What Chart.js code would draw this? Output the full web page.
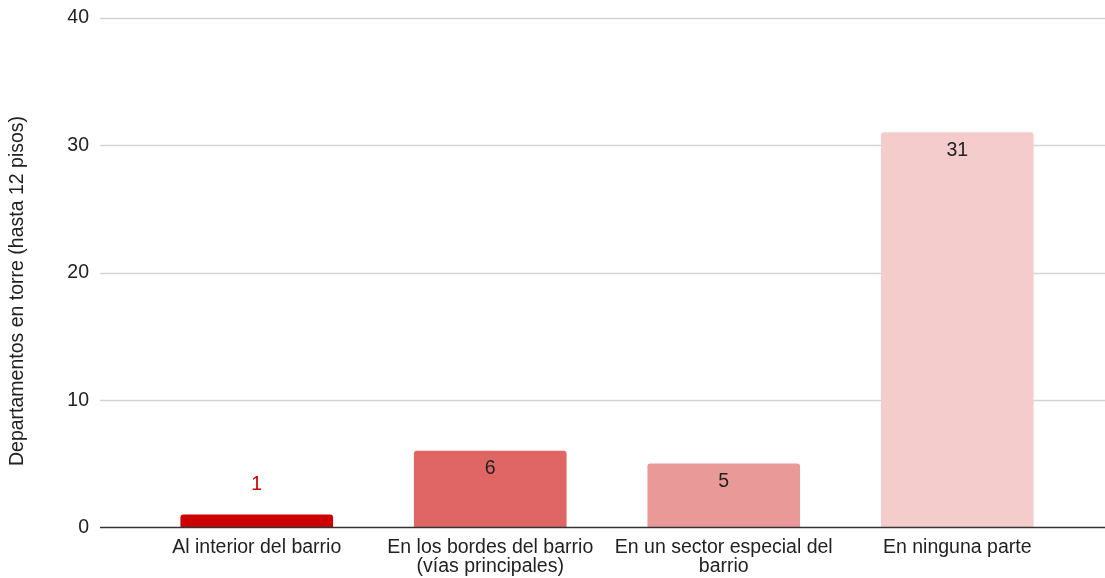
<!DOCTYPE html>
<html lang="es">
<head>
<meta charset="utf-8">
<title>Departamentos en torre</title>
<script src="https://cdn.jsdelivr.net/npm/chart.js@4/dist/chart.umd.min.js"></script>
<style>
  html, body { margin: 0; padding: 0; background: #fff; }
  canvas { display: block; }
</style>
</head>
<body>
<canvas id="chart" width="1105" height="578"></canvas>
<script>
// datos
const categorias = [
  'Al interior del barrio',
  ['En los bordes del barrio', '(vías principales)'],
  ['En un sector especial del', 'barrio'],
  'En ninguna parte'
];
const valores = [1, 6, 5, 31];
const colores = ['#cc0000', '#e06666', '#ea9999', '#f4cccc'];
const ticksY = [0, 10, 20, 30, 40];
const tituloY = 'Departamentos en torre (hasta 12 pisos)';

const FUENTE = '"Liberation Sans", Arial, sans-serif';
const TAM = 19.5;
const GRID_IZQ = 100;

Chart.defaults.font.family = FUENTE;
Chart.defaults.font.size = TAM;
Chart.defaults.color = '#222';

// líneas horizontales de fondo y línea base, a todo el ancho
const lineasFondo = {
  id: 'lineasFondo',
  beforeDatasetsDraw(chart) {
    const { ctx, scales: { y } } = chart;
    ctx.save();
    ctx.lineWidth = 1.6;
    ctx.strokeStyle = '#d4d4d4';
    y.ticks.forEach(t => {
      if (t.value === 0) return;
      const py = Math.round(y.getPixelForValue(t.value)) + 0.5;
      ctx.beginPath();
      ctx.moveTo(GRID_IZQ, py);
      ctx.lineTo(chart.width, py);
      ctx.stroke();
    });
    ctx.restore();
  },
  afterDatasetsDraw(chart) {
    const { ctx, scales: { y } } = chart;
    const py = y.getPixelForValue(0);
    ctx.save();
    ctx.lineWidth = 1.6;
    ctx.strokeStyle = '#333';
    ctx.beginPath();
    ctx.moveTo(GRID_IZQ, py);
    ctx.lineTo(chart.width, py);
    ctx.stroke();

    // título del eje vertical
    ctx.translate(18, 291);
    ctx.rotate(-Math.PI / 2);
    ctx.font = TAM + 'px ' + FUENTE;
    ctx.fillStyle = '#222';
    ctx.textAlign = 'center';
    ctx.textBaseline = 'middle';
    ctx.fillText(tituloY, 0, 0);
    ctx.restore();
  }
};

// etiquetas de valor: dentro de la barra si cabe, encima si no
const etiquetasValor = {
  id: 'etiquetasValor',
  afterDatasetsDraw(chart) {
    const { ctx } = chart;
    const meta = chart.getDatasetMeta(0);
    ctx.save();
    ctx.font = TAM + 'px ' + FUENTE;
    ctx.textAlign = 'center';
    ctx.textBaseline = 'middle';
    meta.data.forEach((bar, i) => {
      const alto = bar.base - bar.y;
      if (alto > 34) {
        ctx.fillStyle = '#222';
        ctx.fillText(String(valores[i]), bar.x, bar.y + 18);
      } else {
        ctx.fillStyle = colores[i];
        ctx.fillText(String(valores[i]), bar.x, bar.y - 30);
      }
    });
    ctx.restore();
  }
};

new Chart(document.getElementById('chart'), {
  type: 'bar',
  data: {
    labels: categorias,
    datasets: [{
      data: valores,
      backgroundColor: colores,
      barThickness: 152,
      borderRadius: 3,
      borderSkipped: 'start'
    }]
  },
  options: {
    responsive: false,
    animation: false,
    layout: { padding: { top: 18, right: 31, bottom: 0, left: 0 } },
    plugins: {
      legend: { display: false },
      tooltip: { enabled: false }
    },
    scales: {
      x: {
        grid: { display: false, drawTicks: false },
        border: { display: false },
        ticks: {
          autoSkip: false,
          maxRotation: 0,
          padding: 11,
          color: '#222',
          font: { size: TAM, lineHeight: 0.95 }
        },
        afterFit(s) { s.height = 50.5; }
      },
      y: {
        min: ticksY[0],
        max: ticksY[ticksY.length - 1],
        afterBuildTicks(s) { s.ticks = ticksY.map(v => ({ value: v })); },
        grid: { display: false, drawTicks: false },
        border: { display: false },
        ticks: { padding: 51, color: '#222', font: { size: TAM } },
        afterFit(s) {
          s.width = 140;
          s.paddingTop = 0;
          s.paddingBottom = 0;
        }
      }
    }
  },
  plugins: [lineasFondo, etiquetasValor]
});
</script>
</body>
</html>
